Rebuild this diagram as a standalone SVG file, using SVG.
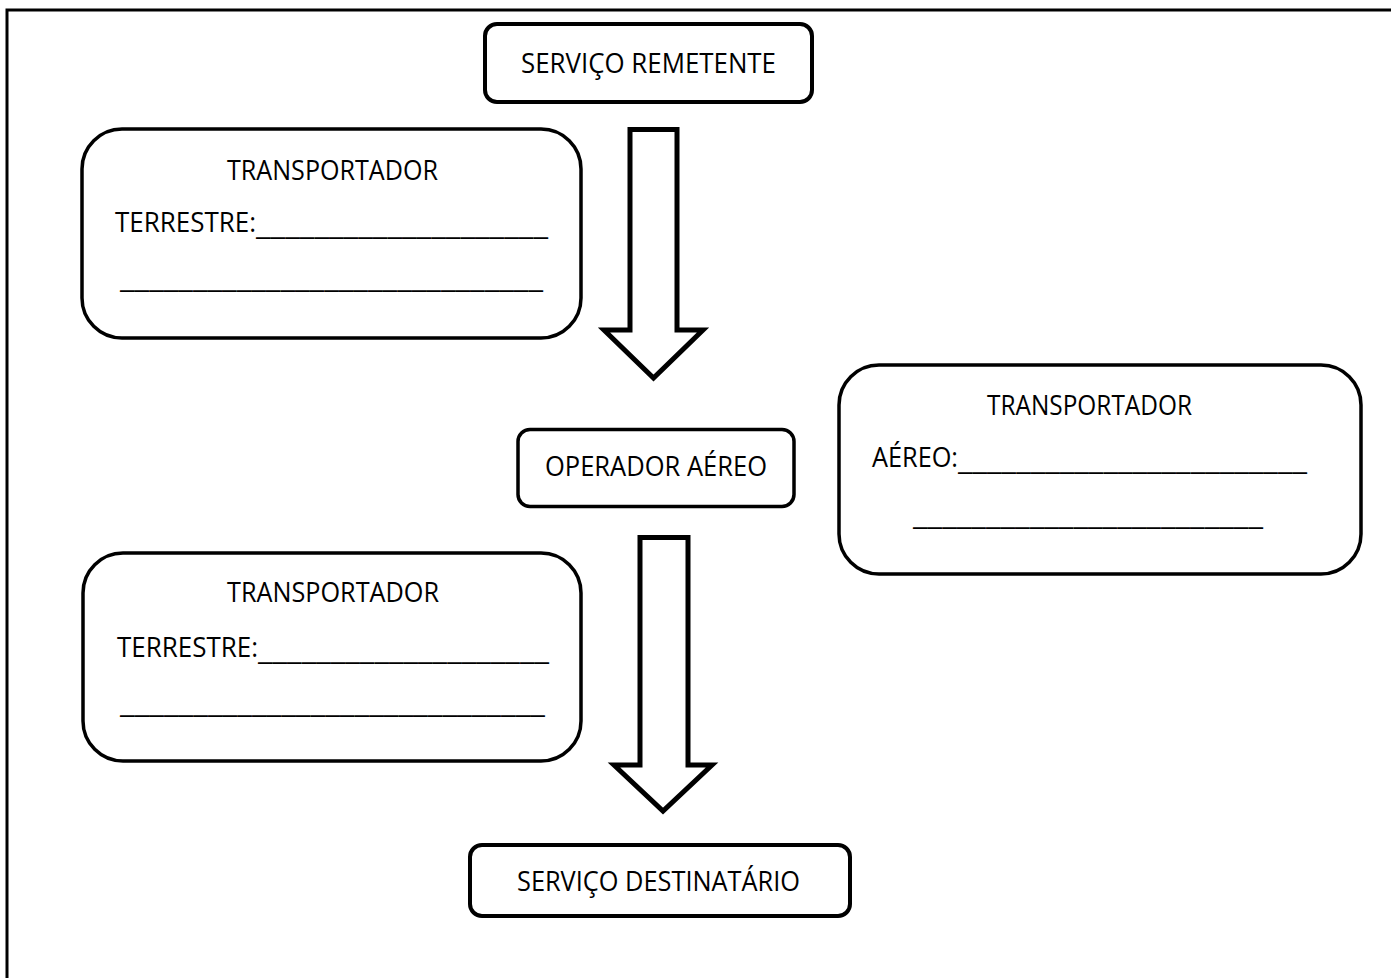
<svg xmlns="http://www.w3.org/2000/svg" width="1391" height="978" viewBox="0 0 1391 978">
<style>
.box{fill:#fff;stroke:#000;stroke-width:4}
.card{fill:#fff;stroke:#000;stroke-width:3.5}
.arrow{fill:#fff;stroke:#000;stroke-width:5;stroke-linejoin:miter}
text{font-family:"Open Sans","Noto Sans","Liberation Sans",sans-serif;font-size:27px;fill:#000}
</style>
<rect x="0" y="0" width="1391" height="978" fill="#fff"/>
<path d="M7,978 V10 H1391" fill="none" stroke="#000" stroke-width="3"/>
<g id="connectors">
<path class="arrow" d="M630,129.5 H677 V330 H703 L653.5,378 L604,330 H630 Z"/>
<path class="arrow" d="M640,537.5 H688 V765 H712 L663,811 L614,765 H640 Z"/>
</g>
<g id="servico-remetente">
<rect class="box" x="485" y="24" width="327" height="78" rx="12"/>
<text x="521" y="73" textLength="255" lengthAdjust="spacingAndGlyphs">SERVIÇO REMETENTE</text>
</g>
<g id="transportador-terrestre-1">
<rect class="card" x="82" y="129" width="499" height="209" rx="40"/>
<text x="227" y="180" textLength="211" lengthAdjust="spacingAndGlyphs">TRANSPORTADOR</text>
<text y="232"><tspan x="115" textLength="141" lengthAdjust="spacingAndGlyphs">TERRESTRE:</tspan><tspan x="256" dy="3" textLength="292" lengthAdjust="spacingAndGlyphs">____________________</tspan></text>
<text x="120" y="288" textLength="423" lengthAdjust="spacingAndGlyphs">_____________________________</text>
</g>
<g id="operador-aereo">
<rect class="box" x="518" y="429.5" width="276" height="77" rx="12" style="stroke-width:3.5"/>
<text x="545" y="476" textLength="222" lengthAdjust="spacingAndGlyphs">OPERADOR AÉREO</text>
</g>
<g id="transportador-aereo">
<rect class="card" x="839" y="365" width="522" height="209" rx="40"/>
<text x="987" y="415" textLength="205" lengthAdjust="spacingAndGlyphs">TRANSPORTADOR</text>
<text y="467"><tspan x="872" textLength="86" lengthAdjust="spacingAndGlyphs">AÉREO:</tspan><tspan x="958" dy="3" textLength="349" lengthAdjust="spacingAndGlyphs">________________________</tspan></text>
<text x="913" y="525" textLength="350" lengthAdjust="spacingAndGlyphs">________________________</text>
</g>
<g id="transportador-terrestre-2">
<rect class="card" x="83" y="553" width="498" height="208" rx="40"/>
<text x="227" y="602" textLength="212" lengthAdjust="spacingAndGlyphs">TRANSPORTADOR</text>
<text y="657"><tspan x="117" textLength="141" lengthAdjust="spacingAndGlyphs">TERRESTRE:</tspan><tspan x="258" dy="3" textLength="291" lengthAdjust="spacingAndGlyphs">____________________</tspan></text>
<text x="120" y="713" textLength="425" lengthAdjust="spacingAndGlyphs">_____________________________</text>
</g>
<g id="servico-destinatario">
<rect class="box" x="470" y="845" width="380" height="71" rx="12"/>
<text x="517" y="891" textLength="283" lengthAdjust="spacingAndGlyphs">SERVIÇO DESTINATÁRIO</text>
</g>
</svg>
